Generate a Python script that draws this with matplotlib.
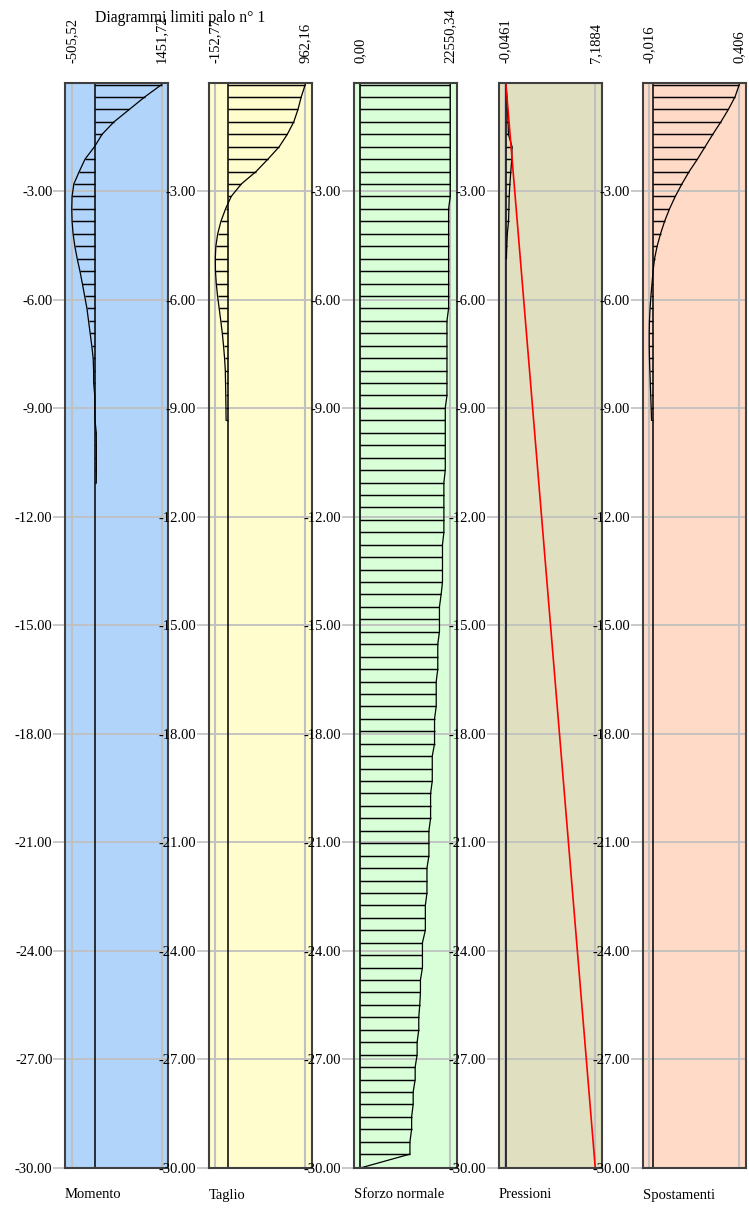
import matplotlib
matplotlib.use('Agg')
import matplotlib.pyplot as plt
import numpy as np

# ---------------- data ----------------
W, H = 749, 1209
PILE_LENGTH = 30.0
N_NODES = 87
NODE_STEP = 0.3438
FIRST_NODE = 0.05

panel_names = ["Momento", "Taglio", "Sforzo normale", "Pressioni", "Spostamenti"]
panel_min = [-505.52, -152.77, 0.0, -0.0461, -0.016]
panel_max = [1451.72, 962.16, 22550.34, 7.1884, 0.406]
min_labels = ["-505,52", "-152,77", "0,00", "-0,0461", "-0,016"]
max_labels = ["1451,72", "962,16", "22550,34", "7,1884", "0,406"]
panel_colors = ["#b0d4fa", "#fffcce", "#d9ffd9", "#e0e0c0", "#ffdac6"]

depth_ticks = [-3, -6, -9, -12, -15, -18, -21, -24, -27, -30]

momento = [1451, 1081, 748, 414, 155, -10, -216, -342, -460, -498,
           -505, -498, -476, -438, -387, -327, -275, -225, -175, -140,
           -105, -70, -40, -30, -28, -5, -2, 0, 28, 30,
           30, 30, 28]

taglio = [962, 912, 872, 820, 740, 640, 500, 352, 170, 45,
          -25, -82, -122, -145, -152, -150, -140, -124, -104, -84,
          -65, -50, -37, -28, -25, -22, -20, -18]

sforzo = ([22550] * 10 + [22130] * 9 + [21720] * 7 + [21300] * 6 +
          [20950] * 5 + [20600] * 4 + [20260] * 1 + [19840] * 3 +
          [19420] * 3 + [19030] * 3 + [18610] * 3 + [18040] * 3 +
          [17620] * 3 + [17200] * 3 + [16710] * 3 + [16310] * 3 +
          [15580] * 3 + [15080] * 2 + [14910] * 1 + [14660] * 2 +
          [14250] * 2 + [13760] * 2 + [13260] * 2 + [12870] * 2 +
          [12450] * 2)
sforzo_end = 0.0

pressioni = [0.0, 0.10, 0.13, 0.18, 0.21, 0.50, 0.48, 0.40, 0.33, 0.27,
             0.25, 0.22, 0.12, 0.08, 0.05]
press_lim_depth = [0.0, 30.0]
press_lim_vals = [0.0, 7.1884]

spostamenti = [0.406, 0.386, 0.355, 0.320, 0.282, 0.246, 0.210, 0.171, 0.137, 0.106,
               0.079, 0.056, 0.037, 0.021, 0.009, 0.002, -0.003, -0.008, -0.012, -0.015,
               -0.016, -0.016, -0.015, -0.013, -0.011, -0.009, -0.007, -0.005]

title = "Diagrammi limiti palo n° 1"

# ---------------- layout ----------------
node_depth = FIRST_NODE + np.arange(N_NODES) * NODE_STEP

FONT = "Liberation Serif"
FS = 10.5
plt.rcParams['font.family'] = [FONT, 'DejaVu Serif']

fig = plt.figure(figsize=(W / 100, H / 100), dpi=100)

lefts = [65, 208.5, 353.5, 498.5, 642.5]
pw = 103.5
top_px, bot_px = 82.7, 1168.0
GRID = "#c0c0c0"

series = [momento, taglio, sforzo, pressioni, spostamenti]

for k in range(5):
    ax = fig.add_axes([lefts[k] / W, 1 - bot_px / H, pw / W, (bot_px - top_px) / H])
    ax.set_facecolor(panel_colors[k])
    vmin, vmax = panel_min[k], panel_max[k]
    a = b = 0.065
    tot = (vmax - vmin) / (1 - a - b)
    ax.set_xlim(vmin - a * tot, vmax + b * tot)
    ax.set_ylim(-PILE_LENGTH, 0)
    ax.set_xticks([])
    ax.set_yticks(depth_ticks)
    ax.set_yticklabels([f"{t:.2f}" for t in depth_ticks], fontsize=FS, family=FONT)
    ax.tick_params(axis='y', length=8.5, width=1.2, color=GRID, pad=0.5)
    ax.yaxis.grid(True, color=GRID, lw=1.3, zorder=0)
    ax.set_axisbelow(True)
    for sp in ax.spines.values():
        sp.set_color("#404040")
        sp.set_linewidth(1.5)
        sp.set_zorder(10)
    ax.axvline(vmin, color=GRID, lw=1.5, zorder=1)
    ax.axvline(vmax, color=GRID, lw=1.5, zorder=1)
    ax.axvline(0, color="black", lw=1.1, zorder=3)

    vals = np.asarray(series[k], dtype=float)
    d = node_depth[:len(vals)]
    ax.hlines(-d, 0, vals, color="black", lw=1.05, zorder=4)
    if k == 2:
        xs = np.append(vals, sforzo_end)
        ys = np.append(-d, -PILE_LENGTH)
    else:
        xs, ys = vals, -d
    ax.plot(xs, ys, color="black", lw=0.9, zorder=5)

    if k == 3:
        ax.plot(press_lim_vals, [-v for v in press_lim_depth], color="red", lw=1.2, zorder=6)

    # top rotated labels
    for v, lab in ((vmin, min_labels[k]), (vmax, max_labels[k])):
        ax.annotate(lab, xy=(v, 1), xycoords=('data', 'axes fraction'),
                    xytext=(0, 14), textcoords='offset points',
                    rotation=90, ha='center', va='bottom', fontsize=FS, family=FONT,
                    annotation_clip=False)
    fig.text(lefts[k] / W, 1 - 1195 / H, panel_names[k], ha='left', va='center',
             fontsize=FS, family=FONT)

fig.text(95 / W, 1 - 18 / H, title, ha='left', va='center', fontsize=11.3,
         family=FONT, zorder=20)

fig.savefig("out.png", dpi=100)
